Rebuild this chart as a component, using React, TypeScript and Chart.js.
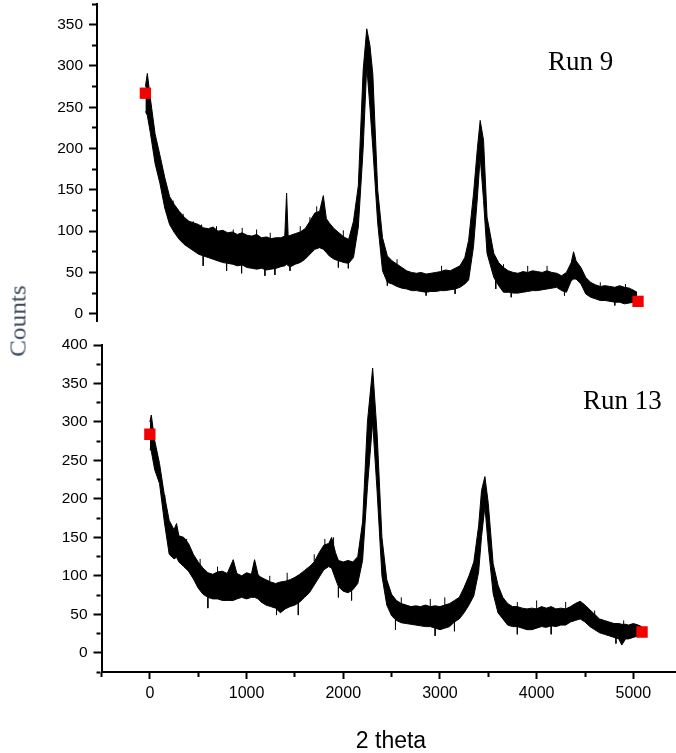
import React, { useEffect, useRef } from "react";
import { Chart, registerables } from "chart.js";

Chart.register(...registerables);

// ---------- Run 9 (upper panel) ----------
const run9X = [
  0, 20, 50, 100, 150, 200, 250, 300, 350, 400,
  450, 500, 550, 600, 650, 700, 750, 800, 850, 900,
  950, 1000, 1050, 1100, 1150, 1200, 1250, 1300, 1350, 1400,
  1440, 1459, 1475, 1500, 1550, 1600, 1650, 1700, 1750, 1800,
  1838, 1870, 1900, 1950, 2000, 2050, 2100, 2150, 2200, 2250,
  2287, 2320, 2350, 2400, 2450, 2500, 2550, 2600, 2650, 2700,
  2750, 2800, 2850, 2900, 2950, 3000, 3050, 3100, 3150, 3200,
  3250, 3300, 3340, 3390, 3430, 3459, 3494, 3530, 3600, 3650,
  3700, 3750, 3800, 3850, 3900, 3950, 4000, 4050, 4100, 4150,
  4200, 4250, 4300, 4350, 4400, 4424, 4450, 4500, 4550, 4600,
  4650, 4700, 4750, 4800, 4850, 4900, 4950, 5000, 5050, 5080,
];
const run9High = [
  275, 291, 262, 218, 192, 165, 142, 132, 124, 117,
  112, 110, 108, 104, 103, 105, 100, 101, 98, 99,
  96, 98, 95, 94, 96, 92, 93, 91, 92, 92,
  94, 146, 94, 95, 97, 99, 103, 112, 122, 124,
  143, 115, 110, 103, 98, 93, 90, 112, 155, 295,
  345, 325, 290, 150, 92, 70, 64, 60, 56, 52,
  50, 49, 50, 48, 49, 50, 51, 53, 52, 55,
  58, 68, 89, 145, 200, 234, 210, 117, 73, 62,
  56, 52, 50, 49, 51, 50, 52, 51, 50, 52,
  50, 49, 46, 50, 62, 75, 64, 56, 44, 38,
  35, 33, 34, 33, 32, 34, 32, 31, 28, 26,
];
const run9Low = [
  245, 240, 220, 182, 158, 128, 108, 98, 90, 84,
  80, 76, 72, 70, 68, 66, 64, 62, 61, 60,
  58, 59, 56, 55, 54, 55, 53, 54, 55, 57,
  58, 60, 58, 57, 60, 62, 66, 72, 78, 80,
  78, 74, 70, 66, 64, 62, 61, 68, 105, 200,
  300, 250, 200, 110, 52, 38, 36, 33, 31, 30,
  28, 28, 27, 26, 27, 27, 28, 28, 29, 30,
  32, 36, 41, 81, 140, 190, 137, 73, 44, 34,
  26, 26, 25, 25, 26, 27, 28, 28, 29, 30,
  31, 32, 28, 26, 40, 42, 42, 36, 24, 20,
  18, 16, 16, 15, 14, 14, 12, 13, 14, 16,
];
// isolated noise spikes: position, base value inside the band, tip value
const run9SpikeX = [
  218, 287, 390, 494, 580, 735, 908, 1000, 1149, 1290,
  1600, 1700, 1770, 2045, 2600, 3060, 3700, 3950, 4150, 4700,
  4960, 597, 839, 994, 1235, 1338, 1494, 1994, 2097, 2500,
  2900, 3200, 3620, 3780, 4330, 4850,
];
const run9SpikeFrom = [
  130, 115, 100, 95, 95, 90, 88, 90, 88, 85,
  90, 100, 110, 85, 50, 45, 48, 45, 45, 28,
  25, 70, 65, 62, 58, 58, 60, 66, 64, 42,
  30, 32, 40, 28, 30, 16,
];
const run9SpikeTo = [
  153, 137, 121, 112, 108, 106, 102, 104, 102, 98,
  106, 117, 130, 101, 66, 58, 60, 58, 58, 38,
  36, 58, 52, 49, 46, 47, 52, 56, 55, 34,
  22, 24, 30, 20, 22, 10,
];
const run9MarkerX = [0, 5090];
const run9MarkerY = [267, 15];

// ---------- Run 13 (lower panel) ----------
const run13X = [
  0, 15, 50, 100, 150, 200, 250, 276, 300, 350,
  400, 450, 500, 550, 600, 650, 700, 750, 800, 862,
  900, 950, 1000, 1050, 1083, 1120, 1150, 1200, 1250, 1300,
  1350, 1400, 1450, 1500, 1550, 1600, 1650, 1700, 1750, 1800,
  1850, 1880, 1920, 1950, 2000, 2050, 2100, 2150, 2200, 2250,
  2304, 2350, 2400, 2450, 2500, 2550, 2600, 2650, 2700, 2750,
  2800, 2850, 2900, 2950, 3000, 3050, 3100, 3150, 3200, 3250,
  3300, 3350, 3400, 3430, 3465, 3500, 3550, 3600, 3650, 3700,
  3750, 3800, 3850, 3900, 3950, 4000, 4050, 4100, 4150, 4200,
  4250, 4300, 4350, 4400, 4450, 4500, 4550, 4600, 4650, 4700,
  4750, 4800, 4850, 4880, 4920, 4950, 5000, 5050, 5086,
];
const run13High = [
  300, 309, 276, 246, 205, 172, 160, 168, 152, 150,
  142, 128, 118, 110, 104, 102, 105, 106, 103, 121,
  103, 100, 104, 102, 121, 101, 98, 95, 92, 90,
  92, 93, 95, 98, 102, 107, 112, 118, 130, 140,
  142, 150, 130, 120, 118, 120, 118, 125, 170, 300,
  370, 285, 150, 95, 76, 68, 64, 62, 60, 61,
  60, 62, 60, 61, 60, 62, 64, 68, 72, 85,
  100, 118, 165, 211, 229, 194, 116, 88, 72, 64,
  60, 60, 58, 57, 58, 57, 60, 58, 60, 57,
  58, 57, 60, 64, 67, 62, 56, 50, 44, 42,
  40, 38, 38, 37, 37, 36, 38, 36, 34,
];
const run13Low = [
  265, 262, 238, 220, 170, 128, 122, 124, 118, 112,
  106, 96, 84, 76, 72, 70, 70, 68, 68, 68,
  70, 72, 70, 72, 72, 70, 66, 62, 60, 58,
  52, 57, 60, 62, 66, 72, 78, 88, 98, 108,
  112, 110, 96, 86, 80, 78, 82, 90, 120, 215,
  300, 210, 100, 62, 48, 42, 39, 38, 37, 36,
  35, 34, 34, 32, 30, 32, 34, 40, 44, 52,
  62, 74, 105, 151, 190, 138, 77, 52, 44, 36,
  34, 34, 32, 30, 30, 32, 34, 33, 35, 34,
  36, 36, 40, 42, 44, 40, 34, 30, 26, 24,
  22, 20, 18, 10, 18, 18, 20, 22, 24,
];
const run13SpikeX = [
  155, 380, 520, 700, 1240, 1420, 1700, 1810, 1900, 2600,
  2900, 3050, 3800, 4000, 4300, 4600, 4900, 600, 1310, 1535,
  1950, 2086, 2540, 2950, 3150, 3800, 4150, 4820,
];
const run13SpikeFrom = [
  180, 130, 105, 95, 85, 85, 110, 125, 130, 55,
  55, 55, 52, 52, 52, 42, 30, 72, 62, 66,
  86, 80, 44, 34, 42, 36, 36, 22,
];
const run13SpikeTo = [
  205, 148, 122, 112, 100, 104, 128, 148, 150, 72,
  70, 72, 66, 68, 66, 55, 42, 58, 49, 49,
  72, 68, 30, 22, 28, 24, 24, 12,
];
const run13MarkerX = [0, 5090];
const run13MarkerY = [284, 27];

// ---------- axes ----------
const X_RANGE = [-500, 5441];
const X_TICKS = [-500, 0, 500, 1000, 1500, 2000, 2500, 3000, 3500, 4000, 4500, 5000];
const X_LABELLED = [0, 1000, 2000, 3000, 4000, 5000];

const TOP_Y_RANGE = [-10, 375];
const TOP_Y_TICKS = [0, 25, 50, 75, 100, 125, 150, 175, 200, 225, 250, 275, 300, 325, 350, 375];
const TOP_Y_LABELLED = [0, 50, 100, 150, 200, 250, 300, 350];

const BOTTOM_Y_RANGE = [-25, 400];
const BOTTOM_Y_TICKS = [-25, 0, 25, 50, 75, 100, 125, 150, 175, 200, 225, 250, 275, 300, 325, 350, 375, 400];
const BOTTOM_Y_LABELLED = [0, 50, 100, 150, 200, 250, 300, 350, 400];

const SANS = "'Liberation Sans', Arial, sans-serif";
const SERIF = "'Liberation Serif', 'Times New Roman', serif";

const toPoints = (xs: number[], ys: number[]) => xs.map((x, i) => ({ x, y: ys[i] }));

// each spike becomes its own short vertical segment (null breaks the line between them)
const toSpikes = (xs: number[], from: number[], to: number[]) => {
  const order = xs.map((_, i) => i).sort((a, b) => xs[a] - xs[b]);
  const pts: { x: number; y: number | null }[] = [];
  order.forEach((i) => {
    pts.push({ x: xs[i], y: from[i] });
    pts.push({ x: xs[i], y: to[i] });
    pts.push({ x: xs[i], y: null });
  });
  return pts;
};

function yScale(range: number[], tickValues: number[], labelled: number[], width: number) {
  return {
    type: "linear",
    position: "left",
    min: range[0],
    max: range[1],
    afterBuildTicks: (s: any) => {
      s.ticks = tickValues.map((value) => ({ value }));
    },
    afterFit: (s: any) => {
      s.width = width;
      s.paddingTop = 0;
      s.paddingBottom = 0;
    },
    border: { display: true, color: "#000", width: 2 },
    grid: {
      drawOnChartArea: false,
      drawTicks: true,
      tickLength: 8,
      tickWidth: 2,
      tickColor: "#000",
      tickBorderDash: (ctx: any) =>
        ctx.tick && !labelled.includes(ctx.tick.value) ? [0, 3, 4, 100] : [],
    },
    ticks: {
      display: true,
      autoSkip: false,
      padding: 6,
      color: "#000",
      font: { family: SANS, size: 15.5 },
      callback: (v: any) => (labelled.includes(Number(v)) ? String(v) : ""),
    },
  };
}

function datasets(
  xs: number[], hi: number[], lo: number[],
  sx: number[], sFrom: number[], sTo: number[],
  mx: number[], my: number[]
) {
  return [
    {
      type: "line",
      data: toPoints(mx, my),
      showLine: false,
      pointStyle: "rect",
      pointRadius: 8,
      pointBackgroundColor: "#f40000",
      pointBorderColor: "#f40000",
      pointBorderWidth: 0,
      order: 0,
    },
    {
      type: "line",
      data: toPoints(xs, hi),
      borderColor: "#000",
      borderWidth: 1,
      pointRadius: 0,
      fill: false,
      order: 2,
    },
    {
      type: "line",
      data: toPoints(xs, lo),
      borderColor: "#000",
      borderWidth: 1,
      pointRadius: 0,
      fill: "-1",
      backgroundColor: "#000",
      order: 2,
    },
    {
      type: "line",
      data: toSpikes(sx, sFrom, sTo),
      borderColor: "#000",
      borderWidth: 1,
      pointRadius: 0,
      spanGaps: false,
      fill: false,
      order: 1,
    },
  ];
}

export default function App() {
  const topRef = useRef<HTMLCanvasElement | null>(null);
  const bottomRef = useRef<HTMLCanvasElement | null>(null);

  useEffect(() => {
    const top = new Chart(topRef.current as HTMLCanvasElement, {
      type: "line",
      data: {
        datasets: datasets(
          run9X, run9High, run9Low, run9SpikeX, run9SpikeFrom, run9SpikeTo, run9MarkerX, run9MarkerY
        ) as any,
      },
      options: {
        animation: false,
        responsive: false,
        devicePixelRatio: 1,
        layout: { autoPadding: false, padding: { top: 4, right: 4, bottom: 0, left: 0 } },
        plugins: { legend: { display: false }, tooltip: { enabled: false } },
        scales: {
          x: { type: "linear", display: false, offset: false, min: X_RANGE[0], max: X_RANGE[1] },
          y: yScale(TOP_Y_RANGE, TOP_Y_TICKS, TOP_Y_LABELLED, 97) as any,
        },
      },
    });
    const bottom = new Chart(bottomRef.current as HTMLCanvasElement, {
      type: "line",
      data: {
        datasets: datasets(
          run13X, run13High, run13Low, run13SpikeX, run13SpikeFrom, run13SpikeTo, run13MarkerX, run13MarkerY
        ) as any,
      },
      options: {
        animation: false,
        responsive: false,
        devicePixelRatio: 1,
        layout: { autoPadding: false, padding: { top: 15, right: 0, bottom: 0, left: 0 } },
        plugins: { legend: { display: false }, tooltip: { enabled: false } },
        scales: {
          x: {
            type: "linear",
            position: "bottom",
            offset: false,
            min: X_RANGE[0],
            max: X_RANGE[1],
            afterBuildTicks: (s: any) => {
              s.ticks = X_TICKS.map((value) => ({ value }));
            },
            afterFit: (s: any) => {
              s.height = 81;
              s.paddingLeft = 0;
              s.paddingRight = 0;
            },
            border: { display: true, color: "#000", width: 2 },
            grid: {
              drawOnChartArea: false,
              drawTicks: true,
              tickLength: 7,
              tickWidth: 2,
              tickColor: "#000",
              tickBorderDash: (ctx: any) =>
                ctx.tick && !X_LABELLED.includes(ctx.tick.value) ? [4, 100] : [],
            },
            ticks: {
              display: true,
              autoSkip: false,
              maxRotation: 0,
              minRotation: 0,
              padding: 5,
              color: "#000",
              font: { family: SANS, size: 16 },
              callback: (v: any) => (X_LABELLED.includes(Number(v)) ? String(v) : ""),
            },
          } as any,
          y: yScale(BOTTOM_Y_RANGE, BOTTOM_Y_TICKS, BOTTOM_Y_LABELLED, 101.5) as any,
        },
      },
    });
    return () => {
      top.destroy();
      bottom.destroy();
    };
  }, []);

  return (
    <div
      style={{
        position: "absolute",
        left: 0,
        top: 0,
        width: 676,
        height: 753,
        background: "#fff",
        overflow: "hidden",
      }}
    >
      <canvas
        ref={topRef}
        width={676}
        height={322}
        style={{ position: "absolute", left: 0, top: 0, width: 676, height: 322 }}
      />
      <canvas
        ref={bottomRef}
        width={676}
        height={423}
        style={{ position: "absolute", left: 0, top: 330, width: 676, height: 423 }}
      />
      <div
        style={{
          position: "absolute",
          left: 17.5,
          top: 321,
          transform: "translate(-50%, -50%) rotate(-90deg) scaleX(1.1)",
          fontFamily: SERIF,
          fontSize: 23,
          lineHeight: 1,
          color: "#3d4b5e",
          whiteSpace: "nowrap",
        }}
      >
        Counts
      </div>
      <div
        style={{
          position: "absolute",
          left: 391,
          top: 740,
          transform: "translate(-50%, -50%)",
          fontFamily: SANS,
          fontSize: 23,
          lineHeight: 1,
          color: "#000",
          whiteSpace: "nowrap",
        }}
      >
        2 theta
      </div>
      <div
        style={{
          position: "absolute",
          left: 548,
          top: 47.7,
          fontFamily: SERIF,
          fontSize: 27,
          lineHeight: "27px",
          color: "#000",
          whiteSpace: "nowrap",
        }}
      >
        Run 9
      </div>
      <div
        style={{
          position: "absolute",
          left: 583,
          top: 387.4,
          fontFamily: SERIF,
          fontSize: 27,
          lineHeight: "27px",
          color: "#000",
          whiteSpace: "nowrap",
        }}
      >
        Run 13
      </div>
    </div>
  );
}
